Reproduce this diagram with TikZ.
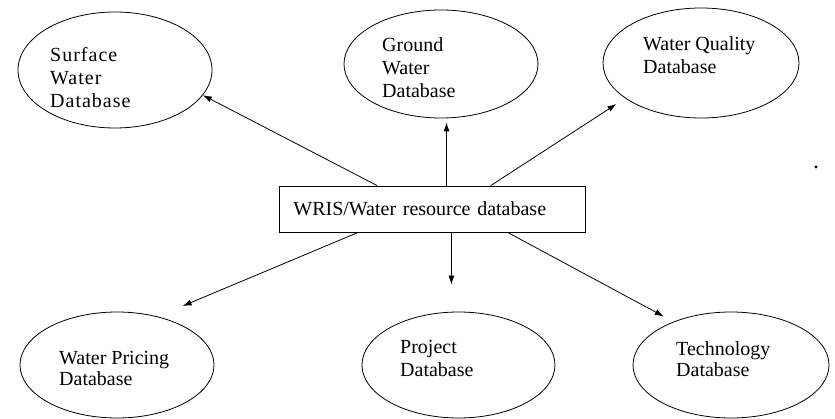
\documentclass[tikz,border=0pt]{standalone}
\usepackage{fontspec}
\setmainfont{Liberation Serif}
\usetikzlibrary{shapes.geometric,arrows.meta,calc}
\begin{document}
\begin{tikzpicture}[x=1pt,y=-1pt,
  db/.style={draw, ellipse, line width=0.8pt, inner sep=0pt},
  lbl/.style={anchor=north west, inner sep=0pt, align=left, font=\fontsize{20}{23}\selectfont},
  hub/.style={draw, rectangle, line width=0.8pt, anchor=west, minimum height=46pt,
              inner xsep=14pt, text width=278pt, align=left, font=\fontsize{20}{23}\selectfont},
  link/.style={-{Latex[length=9pt,width=6pt]}, line width=0.8pt},
]
\useasboundingbox (0,0) rectangle (835,419);

% central database box
\node[hub] (hub) at (279,209) {WRIS/Water resource database};

% upper row of databases
\node[db, minimum width=194pt, minimum height=116pt] (sw) at (115,70) {};
\node[lbl, font=\fontsize{20}{23}\selectfont\addfontfeatures{LetterSpace=5}] (swt) at (50,47) {Surface\\Water\\Database};
\node[db, minimum width=194pt, minimum height=108pt] (gw) at (441,64) {};
\node[lbl] (gwt) at (382,37) {Ground\\Water\\Database};
\node[db, minimum width=196pt, minimum height=110pt] (qw) at (701,63) {};
\node[lbl] (qwt) at (643,36) {Water Quality\\Database};

% lower row of databases
\node[db, minimum width=194pt, minimum height=106pt] (pw) at (117,365) {};
\node[lbl, font=\fontsize{20}{21}\selectfont] (pwt) at (59,351) {Water Pricing\\Database};
\node[db, minimum width=193pt, minimum height=106pt] (pj) at (458.5,365) {};
\node[lbl] (pjt) at (400,340) {Project\\Database};
\node[db, minimum width=196pt, minimum height=106pt] (tw) at (731,365) {};
\node[lbl, font=\fontsize{20}{21}\selectfont] (twt) at (676,341) {Technology\\Database};

% connectors from the box to each database
\draw[link] ($(hub.north west)!0.32!(hub.north east)$) -- (sw.-16);
\draw[link, shorten >=4pt] ($(hub.north west)!0.546!(hub.north east)$) coordinate (g0) -- (gw.south -| g0);
\draw[link, shorten >=10.5pt] ($(hub.north west)!0.69!(hub.north east)$) -- (qw.205);
\draw[link, shorten >=27pt] ($(hub.south west)!0.258!(hub.south east)$) -- (pw.50);
\draw[link, shorten >=27pt] ($(hub.south west)!0.562!(hub.south east)$) coordinate (p0) -- (pj.north -| p0);
\draw[link, shorten >=11pt] ($(hub.south west)!0.745!(hub.south east)$) -- (tw.143);

% stray mark at the right
\fill (816,167) circle (1.6pt);
\end{tikzpicture}
\end{document}
